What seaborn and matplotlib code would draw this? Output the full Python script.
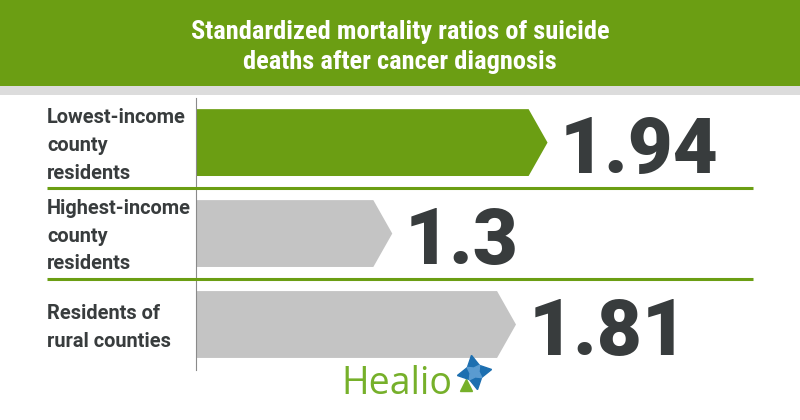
import matplotlib
matplotlib.use("Agg")
import matplotlib.pyplot as plt
import matplotlib.transforms as mtrans
from matplotlib.patches import Polygon, Rectangle
from matplotlib import font_manager
import seaborn as sns

# ---- data ----
categories = ["Lowest-income\ncounty\nresidents",
              "Highest-income\ncounty\nresidents",
              "Residents of\nrural counties"]
values = [1.94, 1.3, 1.81]
value_labels = ["1.94", "1.3", "1.81"]
title_lines = "Standardized mortality ratios of suicide\ndeaths after cancer diagnosis"
brand = "Healio"

GREEN = "#6b9e13"
GREY = "#c4c4c4"
DARK = "#383c3d"

sns.set_theme(style="white")
avail = {f.name for f in font_manager.fontManager.ttflist}
title_font = "Roboto"
for cand in ["Roboto Condensed", "Liberation Sans Narrow", "DejaVu Sans Condensed"]:
    if cand in avail:
        title_font = cand
        break
plt.rcParams["font.family"] = ["Roboto", "DejaVu Sans"]

fig = plt.figure(figsize=(8, 4.2), dpi=100)
fig.patch.set_facecolor("white")

# header band
fig.patches.append(Rectangle((0, 1 - 86 / 420), 1, 86 / 420, transform=fig.transFigure,
                             facecolor=GREEN, edgecolor="none", zorder=0))
fig.patches.append(Rectangle((0, 1 - 95 / 420), 1, 9 / 420, transform=fig.transFigure,
                             facecolor="#dcdcdc", edgecolor="none", zorder=0))
tsize = 17.5 if title_font == "Roboto" else 19
fig.text(0.5, 1 - 47 / 420, title_lines, ha="center", va="center", color="white",
         fontsize=tsize, fontweight="bold", family=[title_font, "DejaVu Sans"], linespacing=1.3)

ax = fig.add_axes([196 / 800, 50 / 420, 584 / 800, 272 / 420])
ax.set_facecolor("none")
sns.barplot(x=values, y=categories, hue=categories, palette=[GREEN, GREY, GREY],
            orient="h", width=0.735, legend=False, ax=ax, saturation=1)

tip = 0.078
for patch in list(ax.patches):
    x0, y0 = patch.get_x(), patch.get_y()
    w, h = patch.get_width(), patch.get_height()
    fc = patch.get_facecolor()
    patch.set_visible(False)
    ax.add_patch(Polygon([(x0, y0), (x0 + w - tip, y0), (x0 + w, y0 + h / 2),
                          (x0 + w - tip, y0 + h), (x0, y0 + h)],
                         closed=True, facecolor=fc, edgecolor="none", zorder=2))

ax.set_xlim(0.491, 0.491 + 584 / 242.6)
ax.set_ylim(2.5, -0.49)
ax.set_xticks([])
ax.set_yticks([])
ax.set_xlabel("")
ax.set_ylabel("")
for s in ["top", "right", "bottom"]:
    ax.spines[s].set_visible(False)
ax.spines["left"].set_color("#8a8a8a")
ax.spines["left"].set_linewidth(0.8)

# value labels
for i, (v, lab) in enumerate(zip(values, value_labels)):
    ax.annotate(lab, xy=(v, i), xytext=(9, -21.6), textcoords="offset points",
                ha="left", va="baseline", fontsize=56, fontweight="black", color=DARK,
                annotation_clip=False)

# category labels and separators
blend = mtrans.blended_transform_factory(fig.transFigure, ax.transData)
for i, c in enumerate(categories):
    ax.text(47 / 800, i + 0.03, c, transform=blend, ha="left", va="center", fontsize=14.4,
            fontweight="bold", color=DARK, linespacing=1.58)
for yv in [0.5, 1.5]:
    ax.plot([47 / 800, 753 / 800], [yv, yv], transform=blend, color=GREEN, lw=2.2,
            clip_on=False, solid_capstyle="butt", zorder=3)

# brand logo
fig.text(341 / 800, 1 - 394 / 420, brand, ha="left", va="baseline", fontsize=27,
         fontweight="medium", color="#76b02a", family=["Open Sans", "DejaVu Sans"])
fig.lines.append(plt.Line2D([466 / 800], [1 - 385 / 420], transform=fig.transFigure,
                            marker="^", markersize=9, color="#76b02a", lw=0))
fig.lines.append(plt.Line2D([474 / 800], [1 - 372 / 420], transform=fig.transFigure,
                            marker=(4, 1, 10), markersize=25, color="#1d6fb0", lw=0))
fig.lines.append(plt.Line2D([474 / 800], [1 - 372 / 420], transform=fig.transFigure,
                            marker=(4, 1, 55), markersize=13, color="#5a9bd0", lw=0))

fig.savefig("out.png", dpi=100, facecolor="white")
